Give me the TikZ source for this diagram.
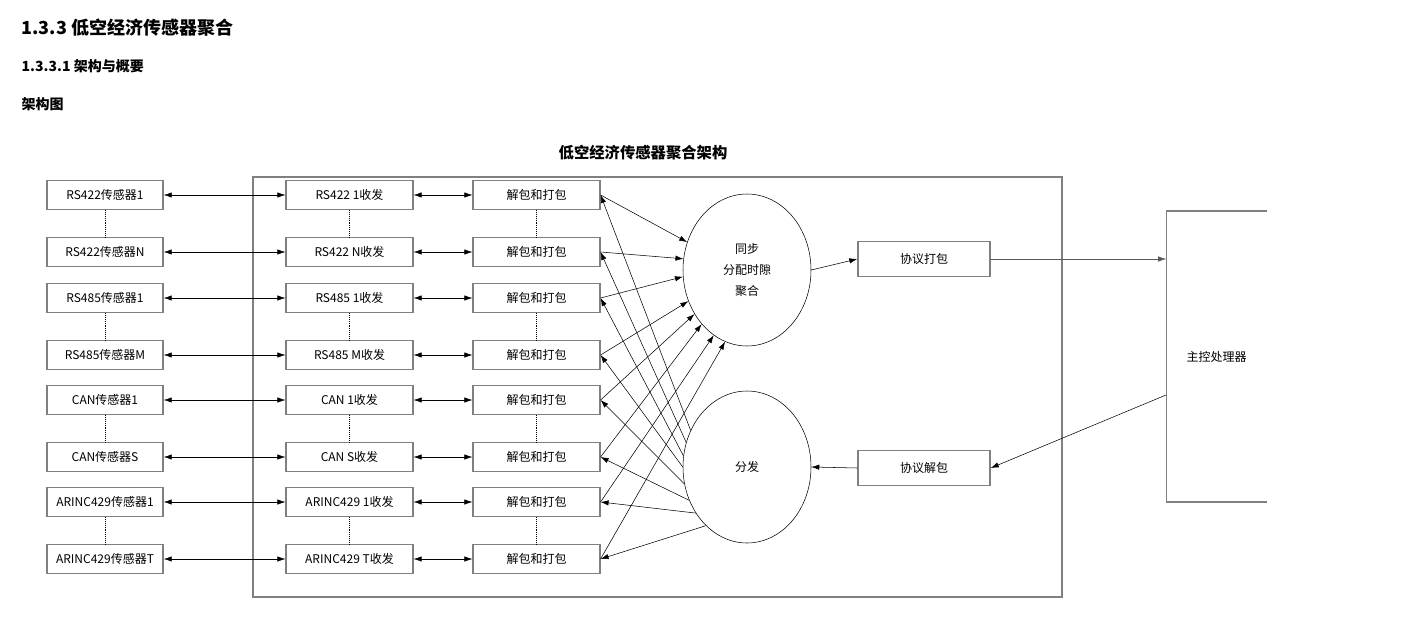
\documentclass[tikz,border=0pt]{standalone}
\usepackage{fontspec}
\setmainfont{Noto Sans CJK SC}
\usetikzlibrary{shapes,arrows.meta,positioning}
\definecolor{framegray}{RGB}{128,128,128}

\begin{document}
\begin{tikzpicture}[x=0.75pt, y=-0.75pt,
    box/.style={rectangle, draw=framegray, line width=1.1pt, minimum height=22pt, inner sep=0pt, font=\fontsize{9}{10}\selectfont},
    sensor/.style={box, minimum width=87pt},
    trx/.style={box, minimum width=95pt},
    pkt/.style={box, minimum width=95pt},
    proc/.style={ellipse, draw, minimum width=96pt, minimum height=114pt, inner sep=0pt, font=\fontsize{9}{10}\selectfont},
    link/.style={-{Latex[length=6pt,width=4pt]}, thin},
    both/.style={{Latex[length=6pt,width=4pt]}-{Latex[length=6pt,width=4pt]}, thin},
    dots/.style={densely dotted, thin}
]
\useasboundingbox (0,0) rectangle (1414,639);

% Headings
\node[anchor=west, font=\fontsize{13.5}{15}\selectfont\bfseries] (h1) at (17,28) {1.3.3 低空经济传感器聚合};
\node[anchor=west, font=\fontsize{10.5}{12}\selectfont\bfseries] (h2) at (17,66) {1.3.3.1 架构与概要};
\node[anchor=west, font=\fontsize{10.5}{12}\selectfont\bfseries] (h3) at (17,104) {架构图};
\node[font=\fontsize{11.5}{13}\selectfont\bfseries] (title) at (643,153) {低空经济传感器聚合架构};

% Frame
\draw[framegray, line width=1.1pt] (253,177) rectangle (1062,597);

% Sensor rows
\foreach \i/\y/\s/\t in {1/195/RS422传感器1/RS422 1收发, 2/252/RS422传感器N/RS422 N收发,
    3/298/RS485传感器1/RS485 1收发, 4/355/RS485传感器M/RS485 M收发,
    5/400/CAN传感器1/CAN 1收发, 6/457/CAN传感器S/CAN S收发,
    7/502/ARINC429传感器1/ARINC429 1收发, 8/559/ARINC429传感器T/ARINC429 T收发} {
    \node[sensor] (s\i) at (105,\y) {\s};
    \node[trx] (t\i) at (349.5,\y) {\t};
    \node[pkt] (p\i) at (536.5,\y) {解包和打包};
    \draw[both] (s\i) -- (t\i);
    \draw[both] (t\i) -- (p\i);
}

% Dots
\foreach \a/\b in {1/2,3/4,5/6,7/8} {
    \draw[dots] (s\a) -- (s\b);
    \draw[dots] (t\a) -- (t\b);
    \draw[dots] (p\a) -- (p\b);
}

% Aggregation and dispatch
\node[proc, align=center] (sync) at (747,270) {同步\\[6pt]分配时隙\\[6pt]聚合};
\node[proc] (dist) at (747,467) {分发};

\foreach \i/\a in {1/155,2/170,3/186,4/208,5/220,6/230,7/243,8/253} {
    \draw[link] (p\i.east) -- (sync.\a);
}
\foreach \i/\a in {1/147,2/158,3/170,4/180,5/195,6/210,7/222,8/235} {
    \draw[link] (dist.\a) -- (p\i.east);
}

% Protocol
\node[box, minimum width=99pt, minimum height=26pt] (pack) at (924,259) {协议打包};
\node[box, minimum width=99pt, minimum height=26pt] (unpack) at (924,468) {协议解包};

\node[minimum width=75pt, minimum height=218pt, inner sep=0pt, font=\fontsize{9}{10}\selectfont] (main) at (1216.5,356.5) {主控处理器};
\draw[framegray, line width=1.1pt] (main.north east) -- (main.north west) -- (main.south west) -- (main.south east);
\coordinate (mainin) at (main.west |- pack);
\coordinate (mainout) at (1166,395);

\draw[link] (sync.east) -- (pack.west);
\draw[link, framegray!70!black] (pack.east) -- (mainin);
\draw[link] (mainout) -- (unpack.east);
\draw[link] (unpack.west) -- (dist.east);

\end{tikzpicture}
\end{document}
